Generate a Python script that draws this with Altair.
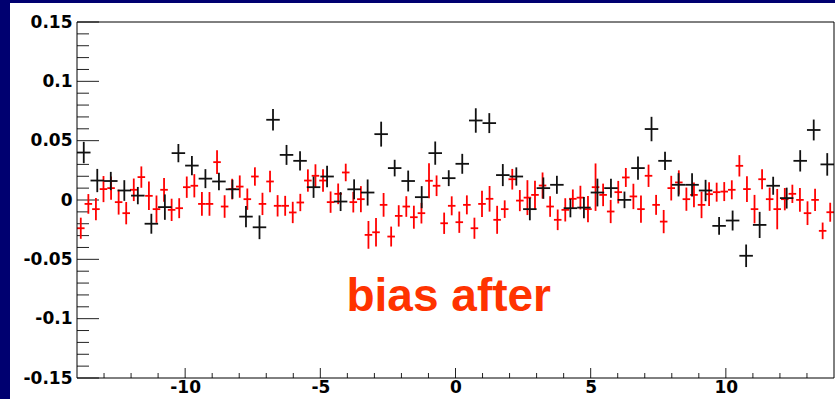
import altair as alt
import pandas as pd

# ---------------- data ----------------
black_x = [-13.75, -13.25, -12.75, -12.25, -11.75, -11.25, -10.75, -10.25, -9.75, -9.25,
           -8.75, -8.25, -7.75, -7.25, -6.75, -6.25, -5.75, -5.25, -4.75, -4.25,
           -3.75, -3.25, -2.75, -2.25, -1.75, -1.25, -0.75, -0.25, 0.25, 0.75,
           1.25, 1.75, 2.25, 2.75, 3.25, 3.75, 4.25, 4.75, 5.25, 5.75,
           6.25, 6.75, 7.25, 7.75, 8.25, 8.75, 9.25, 9.75, 10.25, 10.75,
           11.25, 11.75, 12.25, 12.75, 13.25, 13.75]
black_y = [0.0400, 0.0164, 0.0160, 0.0080, 0.0037, -0.0200, -0.0060, 0.0395, 0.0290, 0.0180,
           0.0156, 0.0090, -0.0140, -0.0230, 0.0676, 0.0380, 0.0330, 0.0108, 0.0198, -0.0013,
           0.0090, 0.0063, 0.0555, 0.0269, 0.0160, 0.0024, 0.0395, 0.0184, 0.0305, 0.0670,
           0.0648, 0.0210, 0.0198, -0.0077, 0.0100, 0.0128, -0.0069, -0.0064, 0.0063, 0.0100,
           0.0001, 0.0269, 0.0598, 0.0330, 0.0128, 0.0128, 0.0080, -0.0218, -0.0173, -0.0470,
           -0.0210, 0.0120, 0.0016, 0.0330, 0.0590, 0.0300]
black_yerr = [0.0090, 0.0098, 0.0077, 0.0087, 0.0073, 0.0084, 0.0107, 0.0077, 0.0081, 0.0080,
              0.0074, 0.0080, 0.0090, 0.0100, 0.0090, 0.0084, 0.0081, 0.0090, 0.0090, 0.0080,
              0.0084, 0.0110, 0.0105, 0.0070, 0.0088, 0.0093, 0.0098, 0.0067, 0.0084, 0.0103,
              0.0084, 0.0093, 0.0077, 0.0094, 0.0090, 0.0076, 0.0077, 0.0090, 0.0117, 0.0080,
              0.0070, 0.0098, 0.0103, 0.0077, 0.0098, 0.0098, 0.0090, 0.0074, 0.0084, 0.0095,
              0.0110, 0.0076, 0.0088, 0.0090, 0.0088, 0.0095]
black_xerr = 0.25

red_x = [-13.86, -13.58, -13.30, -13.02, -12.74, -12.46, -12.18, -11.90, -11.62, -11.34,
         -11.06, -10.78, -10.50, -10.22, -9.94, -9.66, -9.38, -9.10, -8.82, -8.54,
         -8.26, -7.98, -7.70, -7.42, -7.14, -6.86, -6.58, -6.30, -6.02, -5.74,
         -5.46, -5.18, -4.90, -4.62, -4.34, -4.06, -3.78, -3.50, -3.22, -2.94,
         -2.66, -2.38, -2.10, -1.82, -1.54, -1.26, -0.98, -0.70, -0.42, -0.14,
         0.14, 0.42, 0.70, 0.98, 1.26, 1.54, 1.82, 2.10, 2.38, 2.66,
         2.94, 3.22, 3.50, 3.78, 4.06, 4.34, 4.62, 4.90, 5.18, 5.46,
         5.74, 6.02, 6.30, 6.58, 6.86, 7.14, 7.42, 7.70, 7.98, 8.26,
         8.54, 8.82, 9.10, 9.38, 9.66, 9.94, 10.22, 10.50, 10.78, 11.06,
         11.34, 11.62, 11.90, 12.18, 12.46, 12.74, 13.02, 13.30, 13.58, 13.86]
red_y = [-0.0238, -0.0033, -0.0077, 0.0092, 0.0100, -0.0018, -0.0111, 0.0086, 0.0193, 0.0035,
         -0.0077, 0.0086, -0.0083, -0.0069, 0.0108, 0.0120, -0.0033, -0.0033, 0.0319, -0.0055,
         0.0092, 0.0113, 0.0007, 0.0198, -0.0033, 0.0156, -0.0049, -0.0049, -0.0105, -0.0021,
         0.0164, 0.0204, 0.0164, -0.0018, 0.0052, 0.0232, -0.0018, 0.0007, -0.0294, -0.0272,
         -0.0041, -0.0308, -0.0134, -0.0055, -0.0145, -0.0111, 0.0162, 0.0120, -0.0196, -0.0049,
         -0.0187, -0.0041, -0.0238, -0.0033, 0.0010, -0.0167, -0.0077, 0.0175, -0.0005, 0.0020,
         0.0043, 0.0122, -0.0055, -0.0167, -0.0083, 0.0010, 0.0020, -0.0077, 0.0108, 0.0043,
         -0.0097, 0.0066, 0.0190, 0.0030, -0.0077, 0.0204, -0.0041, -0.0182, 0.0100, 0.0148,
         0.0007, 0.0043, -0.0041, 0.0049, 0.0066, 0.0071, 0.0086, 0.0288, 0.0092, -0.0077,
         0.0175, 0.0007, -0.0077, 0.0007, 0.0052, 0.0001, -0.0111, 0.0001, -0.0260, -0.0103]
red_yerr = [0.0089, 0.0083, 0.0094, 0.0110, 0.0098, 0.0105, 0.0094, 0.0095, 0.0090, 0.0120,
            0.0115, 0.0100, 0.0094, 0.0084, 0.0090, 0.0098, 0.0100, 0.0100, 0.0100, 0.0095,
            0.0087, 0.0094, 0.0090, 0.0077, 0.0094, 0.0090, 0.0090, 0.0084, 0.0090, 0.0073,
            0.0094, 0.0097, 0.0095, 0.0090, 0.0087, 0.0074, 0.0087, 0.0110, 0.0117, 0.0120,
            0.0100, 0.0084, 0.0090, 0.0087, 0.0097, 0.0087, 0.0147, 0.0087, 0.0090, 0.0080,
            0.0090, 0.0080, 0.0089, 0.0110, 0.0108, 0.0118, 0.0074, 0.0087, 0.0089, 0.0147,
            0.0120, 0.0110, 0.0087, 0.0087, 0.0098, 0.0079, 0.0100, 0.0110, 0.0200, 0.0095,
            0.0098, 0.0095, 0.0080, 0.0107, 0.0115, 0.0094, 0.0084, 0.0098, 0.0104, 0.0102,
            0.0098, 0.0104, 0.0112, 0.0100, 0.0080, 0.0080, 0.0080, 0.0090, 0.0108, 0.0120,
            0.0084, 0.0098, 0.0170, 0.0094, 0.0077, 0.0100, 0.0100, 0.0094, 0.0070, 0.0080]
red_xerr = 0.14

x_labels = [-10, -5, 0, 5, 10]
x_minor = [-13, -12, -11, -9, -8, -7, -6, -4, -3, -2, -1, 1, 2, 3, 4, 6, 7, 8, 9, 11, 12, 13]
y_labels = [-0.15, -0.1, -0.05, 0, 0.05, 0.1, 0.15]
y_minor = [-0.14, -0.13, -0.12, -0.11, -0.09, -0.08, -0.07, -0.06, -0.04, -0.03, -0.02, -0.01,
           0.01, 0.02, 0.03, 0.04, 0.06, 0.07, 0.08, 0.09, 0.11, 0.12, 0.13, 0.14]

label_text = ["bias after"]
label_x = [-0.25]
label_y = [-0.0935]

# ---------------- layout ----------------
W, H = 757, 356
NAVY = "#000070"

black = pd.DataFrame({"x": black_x, "y": black_y, "e": black_yerr})
black["ylo"] = black["y"] - black["e"]
black["yhi"] = black["y"] + black["e"]
black["xlo"] = black["x"] - black_xerr
black["xhi"] = black["x"] + black_xerr

red = pd.DataFrame({"x": red_x, "y": red_y, "e": red_yerr})
red["ylo"] = red["y"] - red["e"]
red["yhi"] = red["y"] + red["e"]
red["xlo"] = red["x"] - red_xerr
red["xhi"] = red["x"] + red_xerr

xs = alt.Scale(domain=[-14, 14], nice=False, zero=False)
ys = alt.Scale(domain=[-0.15, 0.15], nice=False, zero=False)

xaxis = alt.Axis(values=x_labels, title=None, ticks=False, tickSize=0, domain=False, grid=False,
                 labelFont="DejaVu Sans", labelFontWeight="bold", labelFontSize=17,
                 labelColor="#000000", labelPadding=1, labelExpr="datum.value + ''",
                 labelFlush=False, zindex=1)
yaxis = alt.Axis(values=y_labels, title=None, ticks=False, tickSize=0, domain=False, grid=False,
                 labelFont="DejaVu Sans", labelFontWeight="bold", labelFontSize=17,
                 labelColor="#000000", labelPadding=5, labelExpr="datum.value + ''",
                 zindex=1)

one = alt.Data(values=[{"a": 1}])

# white paper behind the whole chart (decoration)
paper = alt.Chart(one).mark_rect(color="white").encode(
    x=alt.value(-67), x2=alt.value(W + 1), y=alt.value(-19), y2=alt.value(H + 21)
)

def errbars(df, color, sw):
    v = alt.Chart(df).mark_rule(color=color, strokeWidth=sw).encode(
        x=alt.X("x:Q", scale=xs, axis=xaxis),
        y=alt.Y("ylo:Q", scale=ys, axis=yaxis),
        y2="yhi:Q",
    )
    h = alt.Chart(df).mark_rule(color=color, strokeWidth=sw).encode(
        x=alt.X("xlo:Q", scale=xs, axis=xaxis),
        x2="xhi:Q",
        y=alt.Y("y:Q", scale=ys, axis=yaxis),
    )
    return v, h

rv, rh = errbars(red, "#ff0000", 1.8)
bv, bh = errbars(black, "#111111", 1.8)

ymaj = alt.Chart(pd.DataFrame({"v": y_labels})).mark_rule(color="#222222", strokeWidth=1).encode(
    y=alt.Y("v:Q", scale=ys, axis=yaxis), x=alt.value(0), x2=alt.value(22)
)
ymin = alt.Chart(pd.DataFrame({"v": y_minor})).mark_rule(color="#222222", strokeWidth=1).encode(
    y=alt.Y("v:Q", scale=ys, axis=yaxis), x=alt.value(0), x2=alt.value(12)
)
xmaj = alt.Chart(pd.DataFrame({"v": x_labels})).mark_rule(color="#222222", strokeWidth=1).encode(
    x=alt.X("v:Q", scale=xs, axis=xaxis), y=alt.value(H), y2=alt.value(H - 10)
)
xmin = alt.Chart(pd.DataFrame({"v": x_minor})).mark_rule(color="#222222", strokeWidth=1).encode(
    x=alt.X("v:Q", scale=xs, axis=xaxis), y=alt.value(H), y2=alt.value(H - 5)
)

frame = alt.Chart(one).mark_rect(fillOpacity=0, stroke="#000000", strokeWidth=1).encode(
    x=alt.value(0), x2=alt.value(W), y=alt.value(0), y2=alt.value(H)
)

label = alt.Chart(pd.DataFrame({"t": label_text, "x": label_x, "y": label_y})).mark_text(
    font="Liberation Sans", fontWeight="bold", fontSize=46, color="#ff3300",
    align="center", baseline="alphabetic"
).encode(
    x=alt.X("x:Q", scale=xs, axis=xaxis),
    y=alt.Y("y:Q", scale=ys, axis=yaxis),
    text="t:N",
)

chart = alt.layer(
    paper, ymaj, ymin, xmaj, xmin, rv, rh, bv, bh, label, frame
).properties(
    width=W, height=H,
    background=NAVY,
    padding={"left": 10, "top": 3, "right": 0, "bottom": 0},
).configure_view(strokeWidth=0)

chart.save("out.html", embed_options={"renderer": "svg", "actions": False})
